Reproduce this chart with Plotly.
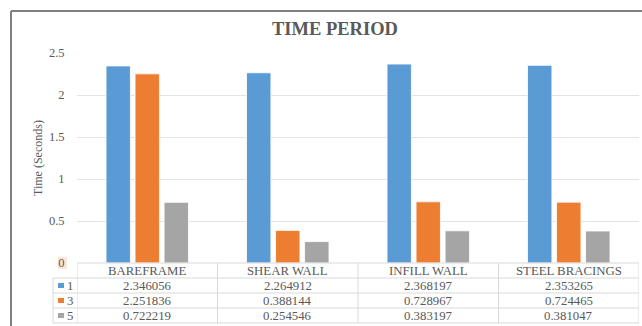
import plotly.graph_objects as go

# Structural systems and their fundamental time periods (seconds) for modes 1, 3 and 5
categories = ["BAREFRAME", "SHEAR WALL", "INFILL WALL", "STEEL BRACINGS"]
series_names = ["1", "3", "5"]
mode_1 = [2.346056, 2.264912, 2.368197, 2.353265]
mode_3 = [2.251836, 0.388144, 0.728967, 0.724465]
mode_5 = [0.722219, 0.254546, 0.383197, 0.381047]
y_ticks = [0, 0.5, 1, 1.5, 2, 2.5]
y_tick_labels = ["0", "0.5", "1", "1.5", "2", "2.5"]

colors = ["#5B9BD5", "#ED7D31", "#A5A5A5"]
series_values = [mode_1, mode_3, mode_5]
TEXT = "#595959"
FONT = "Liberation Serif, Times New Roman, serif"
GRID = "#E3E3E3"
TABLE_LINE = "#D9D9D9"
TABLE_SIZE = 12.8

W, H = 642, 326
L, R, T, B = 77, 639, 53, 263  # plot area in pixels


def xp(px):
    return (px - L) / (R - L)


def yp(py):
    return (B - py) / (B - T)


def label(x, y, text, xref="paper", xanchor="center", size=TABLE_SIZE, angle=0):
    return dict(x=x, y=y, xref=xref, yref="paper", text=text,
                showarrow=False, xanchor=xanchor, yanchor="middle",
                textangle=angle,
                font=dict(family=FONT, size=size, color=TEXT))


fig = go.Figure()
for name, vals, col in zip(series_names, series_values, colors):
    fig.add_trace(go.Bar(
        x=categories, y=vals, name=name,
        marker=dict(color=col, line=dict(color="white", width=0.8)),
        showlegend=False,
    ))

shapes = []
annotations = []

# outer chart frame (top and left edges)
shapes.append(dict(type="line", xref="paper", yref="paper",
                   x0=xp(11), x1=xp(W + 5), y0=yp(11), y1=yp(11),
                   line=dict(color="#808080", width=2)))
shapes.append(dict(type="line", xref="paper", yref="paper",
                   x0=xp(11), x1=xp(11), y0=yp(11), y1=yp(H + 5),
                   line=dict(color="#808080", width=2)))

# faint highlight behind the zero label
shapes.append(dict(type="rect", xref="paper", yref="paper",
                   x0=xp(58), x1=xp(67), y0=yp(257), y1=yp(269),
                   fillcolor="#FBE7D3", line=dict(width=0), layer="below"))

# data table grid
row_lines = [263, 278, 293, 308, 323]
col_edges = [-0.5, 0.5, 1.5, 2.5, 3.5]
legend_left = xp(53)
shapes.append(dict(type="line", xref="paper", yref="paper",
                   x0=0, x1=1, y0=yp(263), y1=yp(263),
                   line=dict(color=TABLE_LINE, width=1)))
for ry in row_lines[1:]:
    shapes.append(dict(type="line", xref="paper", yref="paper",
                       x0=legend_left, x1=1, y0=yp(ry), y1=yp(ry),
                       line=dict(color=TABLE_LINE, width=1)))
shapes.append(dict(type="line", xref="paper", yref="paper",
                   x0=legend_left, x1=legend_left, y0=yp(278), y1=yp(323),
                   line=dict(color=TABLE_LINE, width=1)))
for cx in col_edges:
    shapes.append(dict(type="line", xref="x", yref="paper",
                       x0=cx, x1=cx, y0=yp(263), y1=yp(323),
                       line=dict(color=TABLE_LINE, width=1)))

# header row with category names
for i, cat in enumerate(categories):
    annotations.append(label(i, yp(270.5), cat, xref="x"))

# value rows with legend keys
row_centers = [285.5, 300.5, 315.5]
for name, vals, col, rc in zip(series_names, series_values, colors, row_centers):
    shapes.append(dict(type="rect", xref="paper", yref="paper",
                       x0=xp(58), x1=xp(64), y0=yp(rc - 2.5), y1=yp(rc + 2.5),
                       fillcolor=col, line=dict(width=0)))
    annotations.append(label(xp(65), yp(rc), name, xanchor="left"))
    for i, v in enumerate(vals):
        annotations.append(label(i, yp(rc), f"{v:.6f}", xref="x"))

# chart title and y-axis title
annotations.append(label(xp(335), yp(29), "<b>TIME PERIOD</b>", size=18.5))
annotations.append(label(xp(38), 0.5, "Time (Seconds)", size=12, angle=-90))

fig.update_layout(
    width=W, height=H,
    margin=dict(l=L, r=W - R, t=T, b=H - B, pad=0),
    paper_bgcolor="white", plot_bgcolor="white",
    barmode="group", bargap=0.38, bargroupgap=0.16,
    shapes=shapes, annotations=annotations,
    xaxis=dict(range=[-0.5, 3.5], showticklabels=False, showgrid=False,
               zeroline=False, showline=False, ticks=""),
    yaxis=dict(range=[0, 2.5], tickvals=y_ticks, ticktext=y_tick_labels,
               showgrid=True, gridcolor=GRID, gridwidth=1, zeroline=False,
               showline=False, ticks="outside", ticklen=9,
               tickcolor="rgba(0,0,0,0)",
               tickfont=dict(family=FONT, size=12.5, color=TEXT)),
    font=dict(family=FONT, color=TEXT),
)

fig.write_html("out.html")
